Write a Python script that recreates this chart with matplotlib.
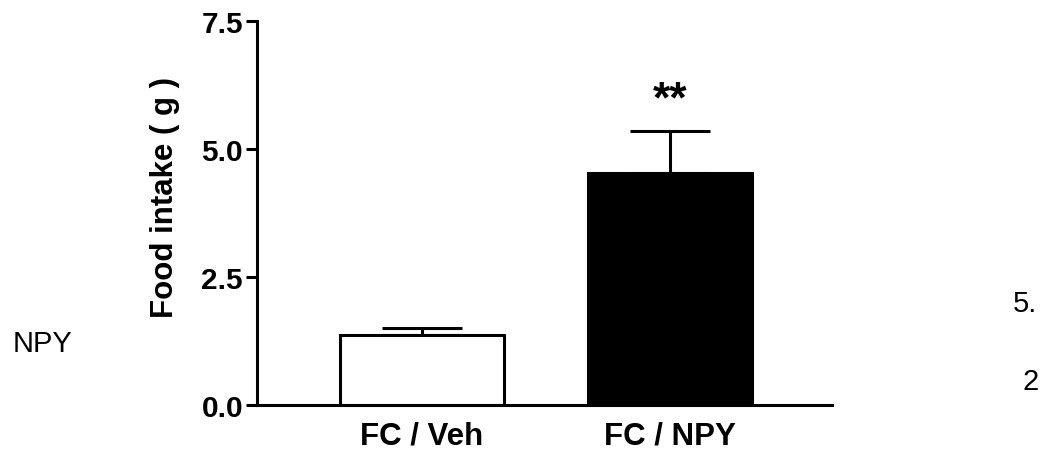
import matplotlib
matplotlib.use("Agg")
import matplotlib.pyplot as plt
import numpy as np

plt.rcParams['font.family'] = ['Liberation Sans', 'DejaVu Sans']

groups = ['FC / Veh', 'FC / NPY']
intake = [1.37, 4.53]
sem = [0.13, 0.82]
colors = ['white', 'black']
yticks = [0.0, 2.5, 5.0, 7.5]

fig = plt.figure(figsize=(10.42, 4.52), dpi=100)
ax = fig.add_axes([0.2466, 0.1018, 0.5519, 0.8495])

x = np.arange(len(groups))
ax.bar(x, intake, width=0.66, color=colors, edgecolor='black', linewidth=2.2, zorder=2)
ax.errorbar(x, intake, yerr=[[0] * len(sem), sem], fmt='none', ecolor='black',
            elinewidth=2.2, capsize=29, capthick=2.2, zorder=1)

ax.text(x[1], intake[1] + sem[1] + 0.2, '**', ha='center', va='bottom',
        fontsize=32, fontweight='bold')

ax.set_xlim(-0.665, 1.653)
ax.set_ylim(0, 7.5)
ax.set_yticks(yticks)
ax.set_yticklabels([f'{t:.1f}' for t in yticks])
ax.set_xticks(x)
ax.set_xticklabels(groups)
for s in ['top', 'right']:
    ax.spines[s].set_visible(False)
for s in ['left', 'bottom']:
    ax.spines[s].set_linewidth(2.2)
ax.tick_params(axis='y', direction='out', length=8, width=2.2, pad=2, labelsize=21.5)
ax.tick_params(axis='x', length=0, pad=11, labelsize=22.5)
for lab in ax.get_xticklabels() + ax.get_yticklabels():
    lab.set_fontweight('bold')
ax.set_ylabel('Food intake ( g )', fontsize=22.5, fontweight='bold')
ax.yaxis.set_label_coords(-0.134, 0.542)

# stray text fragments around the panel
fig.text(0.012, 0.24, 'NPY', fontsize=21, ha='left', va='center')
fig.text(0.972, 0.328, '5.', fontsize=21, ha='left', va='center')
fig.text(0.981, 0.155, '2', fontsize=21, ha='left', va='center')

fig.savefig('out.png', dpi=100)
